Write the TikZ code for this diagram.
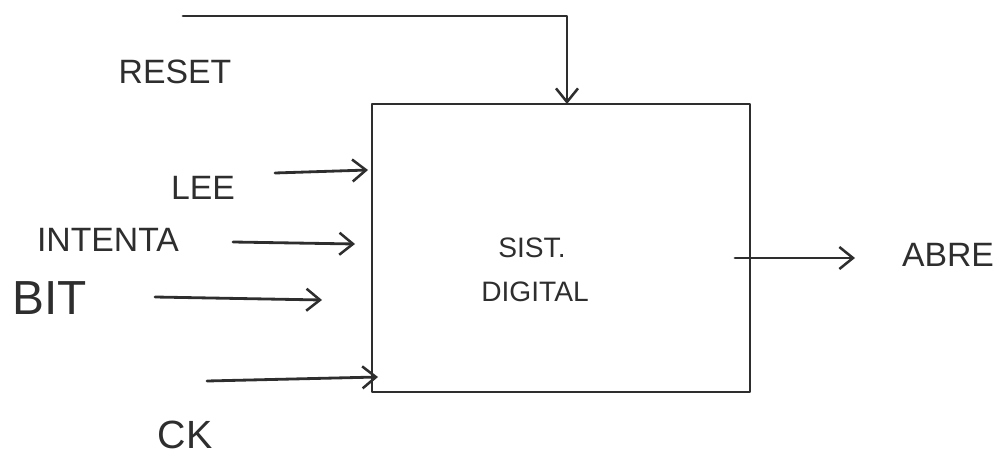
\documentclass[tikz,border=0pt]{standalone}
\usepackage{fontspec}
\setmainfont{Liberation Sans}
\usetikzlibrary{arrows.meta}
\definecolor{ink}{HTML}{2E2E2E}
\tikzset{
  wire/.style={draw=ink, line width=2pt, line cap=round, line join=round},
  arr/.style={wire, -{Straight Barb[length=3.4mm,width=5.5mm,line width=1.8pt]}},
  lbl/.style={text=ink, inner sep=0pt, font=\fontsize{24}{28}\selectfont},
  block/.style={wire, minimum width=9.45cm, minimum height=7.2cm, inner sep=0pt}
}
\begin{document}
\begin{tikzpicture}[x=0.025cm, y=-0.025cm]
  \useasboundingbox (0,0) rectangle (1008,473);

  % the digital system block
  \node[block] (sys) at (561,248) {};
  \node[lbl, font=\fontsize{20}{24}\selectfont] (t1) at (532,248) {SIST.};
  \node[lbl, font=\fontsize{20}{24}\selectfont] (t2) at (535,292) {DIGITAL};

  % signal names
  \node[lbl] (reset) at (175,72) {RESET};
  \node[lbl] (lee) at (203,188) {LEE};
  \node[lbl] (intenta) at (108,240) {INTENTA};
  \node[lbl, font=\fontsize{34}{40}\selectfont] (bit) at (50,298) {BIT};
  \node[lbl, font=\fontsize{28}{34}\selectfont] (ck) at (185,435) {CK};
  \node[lbl] (abre) at (948,255) {ABRE};

  % wire end points
  \coordinate (rstA) at (183,16);
  \coordinate (rstB) at (567,104);
  \coordinate (leeA) at (275,173);
  \coordinate (leeB) at (368,170);
  \coordinate (intA) at (233,242);
  \coordinate (intB) at (355,244);
  \coordinate (bitA) at (155,297);
  \coordinate (bitB) at (322,300);
  \coordinate (ckA) at (207,381);
  \coordinate (ckB) at (378,377);
  \coordinate (abreA) at (735,258);
  \coordinate (abreB) at (855,258);

  % inputs and output
  \draw[arr] (rstA) -| (rstB);
  \draw[arr] (leeA) -- (leeB);
  \draw[arr] (intA) -- (intB);
  \draw[arr] (bitA) -- (bitB);
  \draw[arr] (ckA) -- (ckB);
  \draw[arr] (abreA) -- (abreB);
\end{tikzpicture}
\end{document}
